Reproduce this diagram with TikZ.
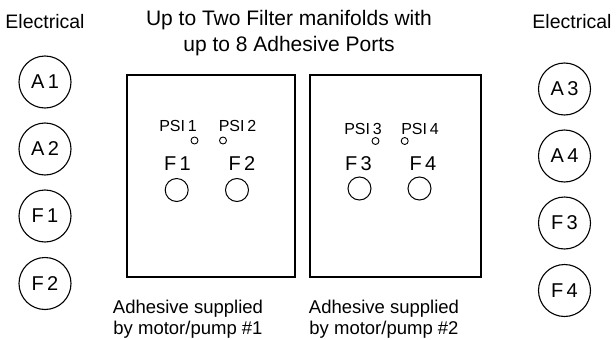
\documentclass[tikz,border=0pt]{standalone}
\usepackage{fontspec}
\setmainfont{Liberation Sans}
\begin{document}
\begin{tikzpicture}[x=1pt,y=-1pt,
  lbl/.style={inner sep=0pt, anchor=base, align=center},
  elec/.style={circle, draw, line width=1.1pt, minimum size=52pt, inner sep=0pt, font=\fontsize{20}{22}\selectfont},
  manifold/.style={draw, line width=1.1pt},
  psi/.style={circle, draw, line width=0.9pt, minimum size=7pt, inner sep=0pt},
  port/.style={circle, draw, line width=1pt, minimum size=23pt, inner sep=0pt},
  psitxt/.style={inner sep=0pt, font=\fontsize{16}{18}\selectfont},
  ftxt/.style={inner sep=0pt, font=\fontsize{20}{22}\selectfont}]
\useasboundingbox (0,0) rectangle (616,340);
% titles
\node[lbl, font=\fontsize{19.5}{21}\selectfont] (eL) at (45,28) {Electrical};
\node[lbl, font=\fontsize{19.5}{21}\selectfont] (eR) at (572,28) {Electrical};
\node[lbl, font=\fontsize{21}{26}\selectfont] (t1) at (289,25) {Up to Two Filter manifolds with};
\node[lbl, font=\fontsize{21}{26}\selectfont] (t2) at (289,51) {up to 8 Adhesive Ports};
% left electrical
\node[elec] (A1) at (45,82) {A\,1};
\node[elec] (A2) at (45,149) {A\,2};
\node[elec] (F1e) at (45,216) {F\,1};
\node[elec] (F2e) at (45,283.5) {F\,2};
% right electrical
\node[elec] (A3) at (564.5,89) {A\,3};
\node[elec] (A4) at (564.5,156) {A\,4};
\node[elec] (F3e) at (564.5,223) {F\,3};
\node[elec] (F4e) at (564.5,290.5) {F\,4};
% manifolds
\draw[manifold] (127,75) rectangle (295,277);
\draw[manifold] (310,75) rectangle (481,277);
% manifold 1
\node[psitxt] (p1) at (178,126) {PSI\,1};
\node[psitxt] (p2) at (237.5,126) {PSI\,2};
\node[psi] (s1) at (194.5,140.5) {};
\node[psi] (s2) at (223,140.5) {};
\node[ftxt] (f1) at (177.5,163.5) {F\,1};
\node[ftxt] (f2) at (242,163.5) {F\,2};
\node[port] (c1) at (176.7,190) {};
\node[port] (c2) at (237,190) {};
% manifold 2
\node[psitxt] (p3) at (363,128.5) {PSI\,3};
\node[psitxt] (p4) at (420,128.5) {PSI\,4};
\node[psi] (s3) at (375.5,141) {};
\node[psi] (s4) at (404.7,141) {};
\node[ftxt] (f3) at (358.5,163.5) {F\,3};
\node[ftxt] (f4) at (423,163.5) {F\,4};
\node[port] (c3) at (359.5,188.5) {};
\node[port] (c4) at (419.5,188.5) {};
% captions
\node[lbl, font=\fontsize{18.5}{21}\selectfont] (b1) at (188,313) {Adhesive supplied};
\node[lbl, font=\fontsize{18.5}{21}\selectfont] (b2) at (188,334) {by motor/pump \#1};
\node[lbl, font=\fontsize{18.5}{21}\selectfont] (b3) at (384,313) {Adhesive supplied};
\node[lbl, font=\fontsize{18.5}{21}\selectfont] (b4) at (384,334) {by motor/pump \#2};
\end{tikzpicture}
\end{document}
